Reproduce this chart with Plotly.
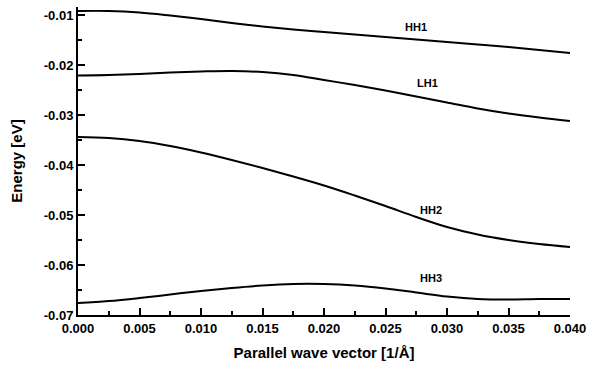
import plotly.graph_objects as go

k = [0.0, 0.0025, 0.005, 0.0075, 0.01, 0.0125, 0.015, 0.0175, 0.02,
     0.0225, 0.025, 0.0275, 0.03, 0.0325, 0.035, 0.0375, 0.04]

hh1 = [-0.0092, -0.0092, -0.0095, -0.0101, -0.0108, -0.0116, -0.0123, -0.0129,
       -0.0134, -0.0139, -0.0144, -0.0149, -0.0154, -0.0159, -0.0164, -0.0170, -0.0176]
lh1 = [-0.0221, -0.0220, -0.0218, -0.0215, -0.0213, -0.0212, -0.0214, -0.0220,
       -0.0230, -0.0240, -0.0251, -0.0263, -0.0275, -0.0287, -0.0297, -0.0305, -0.0312]
hh2 = [-0.0344, -0.0346, -0.0352, -0.0362, -0.0375, -0.0390, -0.0406, -0.0423,
       -0.0441, -0.0461, -0.0482, -0.0504, -0.0524, -0.0539, -0.0550, -0.0558, -0.0564]
hh3 = [-0.0676, -0.0672, -0.0666, -0.0659, -0.0652, -0.0646, -0.0641, -0.0638,
       -0.0638, -0.0641, -0.0647, -0.0655, -0.0663, -0.0668, -0.0669, -0.0668, -0.0668]

series = [hh1, lh1, hh2, hh3]

label_text = ["HH1", "LH1", "HH2", "HH3"]
label_k = [0.0275, 0.0284, 0.0287, 0.0287]
label_e = [-0.0124, -0.0236, -0.0490, -0.0626]

x_tickvals = [0.0, 0.005, 0.01, 0.015, 0.02, 0.025, 0.03, 0.035, 0.04]
x_ticktext = ["0.000", "0.005", "0.010", "0.015", "0.020", "0.025", "0.030", "0.035", "0.040"]
y_tickvals = [-0.01, -0.02, -0.03, -0.04, -0.05, -0.06, -0.07]
y_ticktext = ["-0.01", "-0.02", "-0.03", "-0.04", "-0.05", "-0.06", "-0.07"]

FONT = "Liberation Sans, Arial, sans-serif"

fig = go.Figure()
for s in series:
    fig.add_trace(go.Scatter(x=k, y=s, mode="lines", line=dict(color="black", width=2, shape="spline"),
                             showlegend=False, hoverinfo="skip"))

for t, xx, yy in zip(label_text, label_k, label_e):
    fig.add_annotation(x=xx, y=yy, text=t, showarrow=False,
                       font=dict(family=FONT, size=11, color="black", weight="bold"))

fig.update_layout(
    width=593, height=366,
    margin=dict(l=78, r=20, t=7, b=51),
    paper_bgcolor="white", plot_bgcolor="white",
    font=dict(family=FONT, color="black"),
)
fig.update_xaxes(
    range=[0, 0.04], showgrid=False, zeroline=False,
    showline=True, linecolor="black", linewidth=2,
    ticks="inside", ticklen=7, tickwidth=1.5, tickcolor="black",
    tickvals=x_tickvals, ticktext=x_ticktext,
    tickfont=dict(family=FONT, size=13, color="black", weight="bold"),
    minor=dict(ticks="inside", ticklen=4, tickwidth=1.5, tickcolor="black", dtick=0.0025, tick0=0, showgrid=False),
    title=dict(text="Parallel wave vector [1/Å]", standoff=13,
               font=dict(family=FONT, size=15, color="black", weight="bold")),
)
fig.update_yaxes(
    range=[-0.07, -0.0084], showgrid=False, zeroline=False,
    showline=True, linecolor="black", linewidth=2,
    ticks="inside", ticklen=7, tickwidth=1.5, tickcolor="black",
    tickvals=y_tickvals, ticktext=y_ticktext,
    tickfont=dict(family=FONT, size=13, color="black", weight="bold"),
    minor=dict(ticks="inside", ticklen=4, tickwidth=1.5, tickcolor="black", dtick=0.005, tick0=-0.07, showgrid=False),
    title=dict(text="Energy [eV]", standoff=18,
               font=dict(family=FONT, size=15, color="black", weight="bold")),
)

fig.write_html("out.html", config={"displayModeBar": False},
               post_script="document.body.style.margin='0';document.body.style.overflow='hidden';")
